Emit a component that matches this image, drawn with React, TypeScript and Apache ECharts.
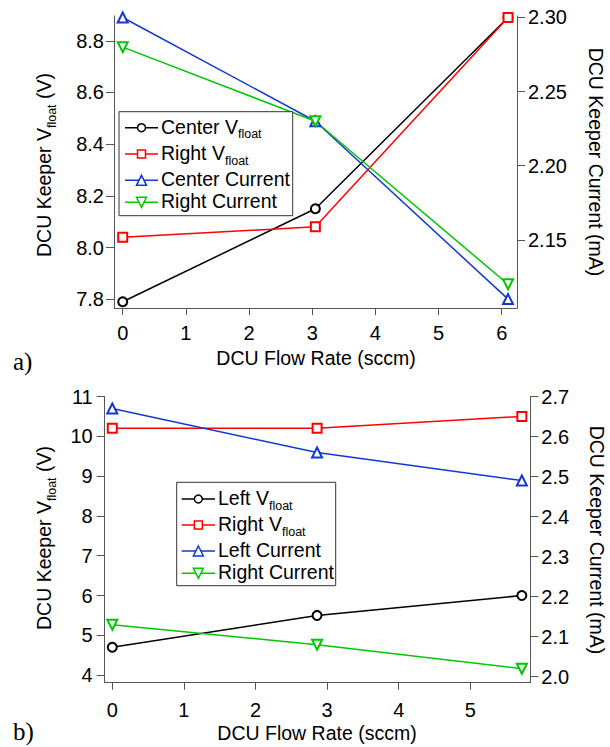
import React, { useEffect, useRef } from "react";
import * as echarts from "echarts";

// ---- Data (panel a) ----
const topX = [0, 3.05, 6.1];
const topCenterV = [7.79, 8.15, 8.89];
const topRightV = [8.04, 8.08, 8.89];
const topCenterI = [2.3, 2.23, 2.11];
const topRightI = [2.28, 2.23, 2.12];
const topXTicks = [0, 1, 2, 3, 4, 5, 6];
const topVTicks = [7.8, 8.0, 8.2, 8.4, 8.6, 8.8];
const topITicks = [2.15, 2.2, 2.25, 2.3];

// ---- Data (panel b) ----
const botX = [0, 2.86, 5.72];
const botLeftV = [4.7, 5.5, 6.0];
const botRightV = [10.2, 10.2, 10.5];
const botLeftI = [2.67, 2.56, 2.49];
const botRightI = [2.13, 2.08, 2.02];
const botXTicks = [0, 1, 2, 3, 4, 5];
const botVTicks = [4, 5, 6, 7, 8, 9, 10, 11];
const botITicks = [2.0, 2.1, 2.2, 2.3, 2.4, 2.5, 2.6, 2.7];

const topLegend = ["Center V|float", "Right V|float", "Center Current", "Right Current"];
const botLegend = ["Left V|float", "Right V|float", "Left Current", "Right Current"];

const FONT = "'Liberation Sans', Arial, Helvetica, sans-serif";
const FS = 19.5;
const TICK_FS = 20;
const BLACK = "#000000";
const RED = "#ff0000";
const BLUE = "#1238d0";
const GREEN = "#00c800";
const AXIS = "#555555";

const COLORS = [BLACK, RED, BLUE, GREEN];
const SYMBOLS = ["emptyCircle", "emptyRect", "emptyTriangle", "emptyTriangle"];
const ROTATES = [0, 0, 0, 180];
const SIZES = [9, 9, 10, 10];

const pairs = (xs: number[], ys: number[]) => xs.map((x, i) => [x, ys[i]]);

const richStyles = {
  m: { fontSize: FS, fontFamily: FONT, lineHeight: 28, fill: "#000", color: "#000" },
  s: { fontSize: 12.5, fontFamily: FONT, lineHeight: 12, verticalAlign: "bottom", fill: "#000", color: "#000" },
};

function richLabel(label: string) {
  const parts = label.split("|");
  if (parts.length === 1) return `{m|${parts[0]}}`;
  return `{m|${parts[0]}}{s|${parts[1]}}` + (parts[2] ? `{m|${parts[2]}}` : "");
}

function textEl(x: number, y: number, text: string, opts: any = {}) {
  return {
    type: "text",
    x,
    y,
    rotation: opts.rotation || 0,
    z: 100,
    style: {
      text,
      rich: richStyles,
      fontSize: opts.fontSize || FS,
      fontFamily: opts.fontFamily || FONT,
      fill: "#000",
      align: opts.align || "center",
      textAlign: opts.align || "center",
      verticalAlign: "middle",
      textVerticalAlign: "middle",
    },
  };
}

function markerEl(kind: number, cx: number, cy: number, color: string) {
  const s = SIZES[kind];
  const h = s / 2;
  const style = { stroke: color, fill: "#fff", lineWidth: 1.5 };
  if (kind === 0) return { type: "circle", z: 101, shape: { cx, cy, r: h - 0.5 }, style };
  if (kind === 1) return { type: "rect", z: 101, shape: { x: cx - h + 0.5, y: cy - h + 0.5, width: s - 1, height: s - 1 }, style };
  if (kind === 2)
    return { type: "polygon", z: 101, shape: { points: [[cx, cy - h], [cx + h, cy + h], [cx - h, cy + h]] }, style };
  return { type: "polygon", z: 101, shape: { points: [[cx, cy + h], [cx + h, cy - h], [cx - h, cy - h]] }, style };
}

function legendEls(box: number[], lx1: number, lx2: number, tx: number, rowsY: number[], labels: string[]) {
  const els: any[] = [
    {
      type: "rect",
      z: 99,
      shape: { x: box[0], y: box[1], width: box[2], height: box[3] },
      style: { fill: "#fff", stroke: "#333", lineWidth: 1 },
    },
  ];
  rowsY.forEach((y, i) => {
    els.push({
      type: "line",
      z: 100,
      shape: { x1: lx1, y1: y, x2: lx2, y2: y },
      style: { stroke: COLORS[i], lineWidth: 1.5 },
    });
    els.push(markerEl(i, (lx1 + lx2) / 2, y, COLORS[i]));
    els.push(textEl(tx, y - 1, richLabel(labels[i]), { align: "left" }));
  });
  return els;
}

function xAxisOpt(grid: number, min: number, max: number, ticks: number[], margin: number) {
  return {
    type: "value",
    gridIndex: grid,
    min,
    max,
    axisLine: { show: true, onZero: false, lineStyle: { color: AXIS, width: 1 } },
    axisTick: { show: true, length: 7, customValues: ticks, lineStyle: { color: AXIS } },
    axisLabel: {
      customValues: ticks,
      margin,
      fontSize: TICK_FS,
      fontFamily: FONT,
      color: "#000",
      formatter: (v: number) => String(Math.round(v)),
    },
    splitLine: { show: false },
  };
}

function yAxisOpt(
  grid: number,
  pos: string,
  min: number,
  max: number,
  ticks: number[],
  digits: number,
  margin: number
) {
  return {
    type: "value",
    gridIndex: grid,
    position: pos,
    min,
    max,
    axisLine: { show: true, onZero: false, lineStyle: { color: AXIS, width: 1 } },
    axisTick: { show: true, length: 8, customValues: ticks, lineStyle: { color: AXIS } },
    axisLabel: {
      customValues: ticks,
      margin,
      fontSize: TICK_FS,
      fontFamily: FONT,
      color: "#000",
      formatter: (v: number) => v.toFixed(digits),
    },
    splitLine: { show: false },
  };
}

function lineSeries(name: string, xi: number, yi: number, data: number[][], k: number) {
  return {
    type: "line",
    name,
    xAxisIndex: xi,
    yAxisIndex: yi,
    data,
    symbol: SYMBOLS[k],
    symbolSize: SIZES[k],
    symbolRotate: ROTATES[k],
    showAllSymbol: true,
    lineStyle: { color: COLORS[k], width: 1.5 },
    itemStyle: { color: COLORS[k], borderColor: COLORS[k], borderWidth: 1.5 },
    emphasis: { disabled: true },
    z: 3,
  };
}

export default function App() {
  const ref = useRef<HTMLDivElement>(null);
  useEffect(() => {
    if (!ref.current) return;
    const chart = echarts.init(ref.current, undefined, { renderer: "svg" });
    const option: any = {
      animation: false,
      backgroundColor: "#ffffff",
      grid: [
        { left: 114, top: 16, width: 403, height: 292 },
        { left: 104.7, top: 396.5, width: 425.6, height: 286.2 },
      ],
      xAxis: [
        xAxisOpt(0, -0.138, 6.242, topXTicks, 15),
        xAxisOpt(1, -0.106, 5.838, botXTicks, 17),
      ],
      yAxis: [
        yAxisOpt(0, "left", 7.766, 8.896, topVTicks, 1, 10),
        yAxisOpt(0, "right", 2.104, 2.301, topITicks, 2, 11),
        yAxisOpt(1, "left", 3.81, 11.0, botVTicks, 0, 12),
        yAxisOpt(1, "right", 1.985, 2.7, botITicks, 1, 11),
      ],
      series: [
        lineSeries("Center Vfloat", 0, 0, pairs(topX, topCenterV), 0),
        lineSeries("Right Vfloat", 0, 0, pairs(topX, topRightV), 1),
        lineSeries("Center Current", 0, 1, pairs(topX, topCenterI), 2),
        lineSeries("Right Current", 0, 1, pairs(topX, topRightI), 3),
        lineSeries("Left Vfloat", 1, 2, pairs(botX, botLeftV), 0),
        lineSeries("Right Vfloat ", 1, 2, pairs(botX, botRightV), 1),
        lineSeries("Left Current", 1, 3, pairs(botX, botLeftI), 2),
        lineSeries("Right Current ", 1, 3, pairs(botX, botRightI), 3),
      ],
      graphic: [
        ...legendEls([119, 111.7, 173.7, 104], 125, 158, 161, [127.7, 154, 180.3, 202.3], topLegend),
        ...legendEls([176.7, 482.3, 159, 103.4], 181.7, 215, 218, [499, 525, 551, 573.3], botLegend),
        textEl(44, 165, richLabel("DCU Keeper V|float| (V)"), { rotation: Math.PI / 2 }),
        textEl(596, 162, "DCU Keeper Current (mA)", { rotation: -Math.PI / 2 }),
        textEl(316, 358, "DCU Flow Rate (sccm)"),
        textEl(44, 538, richLabel("DCU Keeper V|float| (V)"), { rotation: Math.PI / 2 }),
        textEl(597, 540, "DCU Keeper Current (mA)", { rotation: -Math.PI / 2 }),
        textEl(317, 733, "DCU Flow Rate (sccm)"),
        textEl(13, 361, "a)", { align: "left", fontSize: 25, fontFamily: "'Liberation Serif', 'Times New Roman', serif" }),
        textEl(13, 731, "b)", { align: "left", fontSize: 25, fontFamily: "'Liberation Serif', 'Times New Roman', serif" }),
      ],
    };
    chart.setOption(option);
    return () => chart.dispose();
  }, []);
  return (
    <div
      ref={ref}
      style={{ position: "fixed", left: 0, top: 0, width: 610, height: 747, background: "#fff" }}
    />
  );
}
